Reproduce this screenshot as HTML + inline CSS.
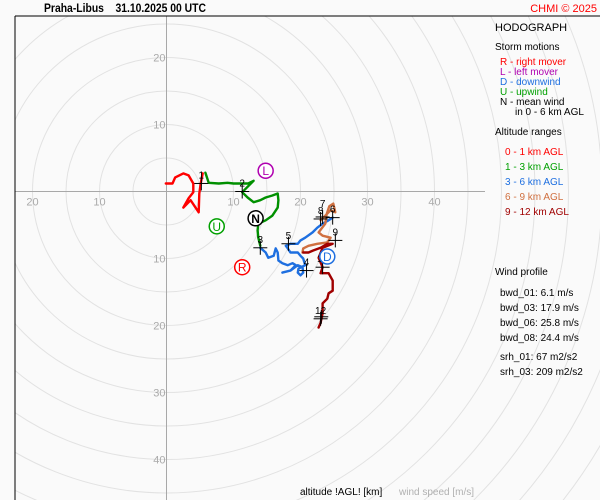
<!DOCTYPE html>
<html><head><meta charset="utf-8">
<style>
html,body{margin:0;padding:0;background:#fafafa;overflow:hidden;}
body{width:600px;height:500px;overflow:hidden;font-family:"Liberation Sans",sans-serif;}
svg{display:block;}
svg text{font-family:"Liberation Sans",sans-serif;}
</style></head>
<body>
<svg id="chart" width="600" height="500" viewBox="0 0 600 500" xmlns="http://www.w3.org/2000/svg">
<rect x="0" y="0" width="600" height="500" fill="#fafafa"/>
<defs><clipPath id="plotclip"><rect x="15" y="16" width="585" height="484"/></clipPath></defs>
<g id="rings" clip-path="url(#plotclip)"></g>
<g id="axes"></g>
<g id="traces"></g>
<g id="markers"></g>
<g id="storms"></g>
<line x1="15" y1="16" x2="600" y2="16" stroke="#000" stroke-width="1"/>
<line x1="15" y1="16" x2="15" y2="500" stroke="#000" stroke-width="1"/>
<text x="44" y="12" font-size="12" font-weight="bold" fill="#000" xml:space="preserve" textLength="162" lengthAdjust="spacingAndGlyphs">Praha-Libus    31.10.2025 00 UTC</text>
<text x="597" y="12" font-size="11" fill="#ff0000" text-anchor="end">CHMI © 2025</text>
<g font-size="10">
<text x="495" y="31" font-size="11" fill="#000">HODOGRAPH</text>
<text x="495" y="50" fill="#000">Storm motions</text>
<text x="500" y="65" fill="#ff0000">R - right mover</text>
<text x="500" y="75" fill="#b000b0">L - left mover</text>
<text x="500" y="85" fill="#1e6fe0">D - downwind</text>
<text x="500" y="95" fill="#00a000">U - upwind</text>
<text x="500" y="105" fill="#000">N - mean wind</text>
<text x="515" y="115" fill="#000">in 0 - 6 km AGL</text>
<text x="495" y="135" fill="#000">Altitude ranges</text>
<text x="505" y="155" fill="#ff0000">0 - 1 km AGL</text>
<text x="505" y="170" fill="#00a000">1 - 3 km AGL</text>
<text x="505" y="185" fill="#1e6fe0">3 - 6 km AGL</text>
<text x="505" y="200" fill="#d07040">6 - 9 km AGL</text>
<text x="505" y="215" fill="#a00000">9 - 12 km AGL</text>
<text x="495" y="275" fill="#000">Wind profile</text>
<text x="500" y="296" fill="#000">bwd_01: 6.1 m/s</text>
<text x="500" y="311" fill="#000">bwd_03: 17.9 m/s</text>
<text x="500" y="326" fill="#000">bwd_06: 25.8 m/s</text>
<text x="500" y="341" fill="#000">bwd_08: 24.4 m/s</text>
<text x="500" y="360" fill="#000">srh_01: 67 m2/s2</text>
<text x="500" y="375" fill="#000">srh_03: 209 m2/s2</text>
</g>
<text x="300" y="495" font-size="10" fill="#000">altitude !AGL! [km]</text>
<text x="399" y="495" font-size="10" fill="#b0b0b0">wind speed [m/s]</text>
</svg>
<script>
const ringSpeeds = [5,10,15,20,25,30,35,40,45,50,55,60,65,70,75,80];
const xTickLabels = [-20,-10,10,20,30,40];
const yTickLabels = [20,10,-10,-20,-30,-40];
const u01 = [-0.1,0.9,1.3,2.5,3.3,4.0,4.0,3.3,2.5,3.6,4.8,4.9,5.1,5.4];
const v01 = [1.2,1.2,2.1,2.7,2.4,1.2,-0.1,-1.0,-2.4,-1.3,-3.1,-0.3,1.2,2.7];
const u13 = [5.8,6.3,7.8,9.1,10.0,11.3,12.2,13.0,11.3,12.1,13.0,14.0,14.8,15.8,16.6,16.7,16.6,15.8,14.8,13.7,13.6,13.7,14.0];
const v13 = [2.8,1.3,1.2,1.3,1.2,1.2,1.2,1.6,-0.1,-0.9,-1.6,-1.3,-0.9,-0.6,-0.3,-1.3,-2.4,-3.6,-4.3,-4.8,-5.8,-6.9,-8.1];
const u36 = [14.0,14.8,15.2,16.0,16.3,16.6,16.7,17.3,18.1,18.8,19.3,18.5,17.3,18.5,19.6,20.3,20.4,20.0,19.6,19.7,20.7,20.4,20.0,19.6,18.5,18.1,17.8,18.5,19.6,20.0,20.7,21.8,22.5,23.3,24.2,24.8];
const v36 = [-8.4,-9.1,-9.9,-9.6,-8.5,-9.1,-10.3,-10.7,-11.0,-10.7,-11.0,-11.8,-12.1,-11.8,-11.0,-11.3,-12.1,-12.5,-12.1,-11.5,-11.0,-10.0,-9.6,-9.1,-9.1,-8.5,-8.1,-7.8,-7.8,-7.3,-6.9,-6.1,-5.4,-4.8,-4.3,-3.9];
const u69 = [23.0,24.5,25.2,24.9,24.3,23.9,23.7,22.7,23.3,24.5,24.0,22.5,21.2,20.4,20.3];
const v69 = [-4.3,-2.8,-3.1,-1.8,-2.2,-3.4,-4.8,-6.1,-6.6,-6.9,-7.6,-7.8,-8.1,-8.5,-9.1];
const u912 = [20.4,21.2,21.9,23.0,24.0,24.8,23.3,22.7,23.3,23.0,24.2,24.8,24.8,24.2,24.0,23.3,23.3,23.0,22.7];
const v912 = [-9.1,-9.1,-8.8,-8.4,-7.8,-7.8,-8.4,-9.9,-11.3,-12.2,-12.2,-13.3,-14.8,-15.2,-16.0,-16.7,-18.2,-19.6,-20.3];
const markerLabels = ["1","2","3","4","5","6","7","8","9","10","11","12"];
const markerU = [5.2,11.3,14.0,20.9,18.2,24.8,23.3,23.0,25.2,23.3,23.1,23.0];
const markerV = [1.2,0.0,-8.4,-11.8,-7.8,-3.9,-3.8,-4.1,-7.3,-11.3,-18.7,-19.0];
const stormLabels = ["L","N","U","R","D"];
const stormU = [14.8,13.3,7.5,11.3,24.0];
const stormV = [3.1,-4.0,-5.2,-11.3,-9.7];

const NS = "http://www.w3.org/2000/svg";
const OX = 166.5, OY = 191.5, K = 6.7;
function sx(u){ return OX + u*K; }
function sy(v){ return OY - v*K; }
function mk(tag, attrs, parent){ const e=document.createElementNS(NS,tag); for(const k in attrs) e.setAttribute(k,attrs[k]); parent.appendChild(e); return e; }

const rings = document.getElementById('rings');
ringSpeeds.forEach(s=>{
  const c = mk('circle',{cx:sx(0),cy:sy(0),r:s*K,fill:'none',stroke:'#e2e2e2','stroke-width':1},rings);
  
  
});
const axes = document.getElementById('axes');
const hx = mk('line',{x1:15,y1:sy(0),x2:485,y2:sy(0),stroke:'#a8a8a8','stroke-width':1},axes);


const vy = mk('line',{x1:sx(0),y1:16,x2:sx(0),y2:500,stroke:'#a8a8a8','stroke-width':1},axes);


xTickLabels.forEach(t=>{
  const e = mk('text',{x:sx(t),y:sy(0)+14,'font-size':11,fill:'#aaa','text-anchor':'middle'},axes);
  e.textContent = Math.abs(t);
  
  
});
yTickLabels.forEach(t=>{
  const e = mk('text',{x:sx(0)-1,y:sy(t)+4,'font-size':11,fill:'#aaa','text-anchor':'end'},axes);
  e.textContent = Math.abs(t);
  
  
});

const traces = document.getElementById('traces');
function trace(us, vs, color, name){
  const pts = us.map((u,i)=>sx(u).toFixed(1)+','+sy(vs[i]).toFixed(1)).join(' ');
  const p = mk('polyline',{points:pts,fill:'none',stroke:color,'stroke-width':2.4,'stroke-linejoin':'round','stroke-linecap':'round'},traces);
  
  
}
trace(u01,v01,'#ff0000','trace-0-1km');
trace(u13,v13,'#009000','trace-1-3km');
trace(u36,v36,'#1e6fe0','trace-3-6km');
trace(u69,v69,'#d07040','trace-6-9km');
trace(u912,v912,'#a00000','trace-9-12km');

const markers = document.getElementById('markers');
markerLabels.forEach((lab,i)=>{
  const x=sx(markerU[i]), y=sy(markerV[i]);
  const g = mk('g',{},markers);
  
  
  mk('line',{x1:x-7,y1:y,x2:x+7,y2:y,stroke:'#000','stroke-width':1},g);
  mk('line',{x1:x,y1:y-7,x2:x,y2:y+7,stroke:'#000','stroke-width':1},g);
  if(lab!=="11"){
    const t = mk('text',{x:x,y:y-(lab==="7"?10:5),'font-size':10,fill:'#000','text-anchor':'middle'},g);
    t.textContent = lab;
  }
});

const storms = document.getElementById('storms');
const stormColors = {L:'#b000b0',N:'#000',U:'#00a000',R:'#ff0000',D:'#1e6fe0'};
stormLabels.forEach((lab,i)=>{
  const x=sx(stormU[i]), y=sy(stormV[i]);
  const g = mk('g',{},storms);
  
  
  mk('circle',{cx:x,cy:y,r:7.5,fill:'#fff',stroke:stormColors[lab],'stroke-width':1.5},g);
  const t = mk('text',{x:x,y:y+4.5,'font-size':12,fill:stormColors[lab],'text-anchor':'middle','font-weight':lab==='N'?'bold':'normal'},g);
  t.textContent = lab;
});
</script>
</body></html>
